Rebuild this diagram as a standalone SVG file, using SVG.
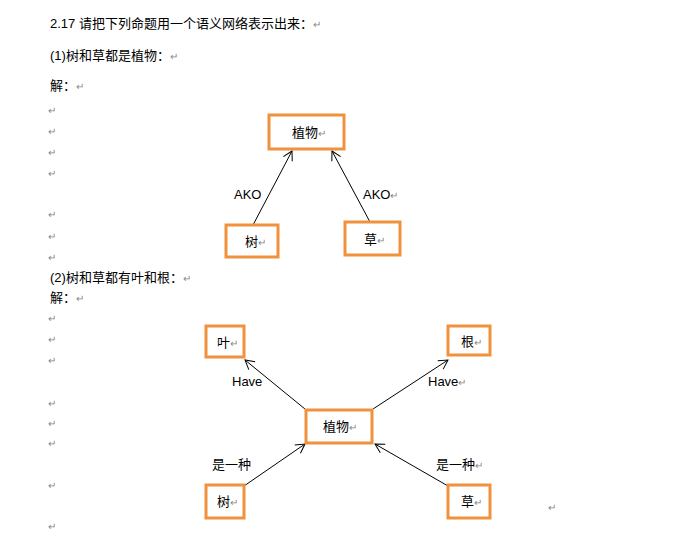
<svg xmlns="http://www.w3.org/2000/svg" width="681" height="542" viewBox="0 0 681 542">
<style>
text{font-family:"Liberation Sans","Noto Sans CJK SC",sans-serif;font-size:13px;fill:#000}
.r{fill:#888;font-size:10px}
.box{fill:#fff;stroke:#F0913C;stroke-width:3}
.c{text-anchor:middle}
.ln{stroke:#000;stroke-width:1;fill:none;marker-end:url(#a)}
</style>
<defs><marker id="a" markerWidth="12" markerHeight="12" refX="10" refY="6" orient="auto" markerUnits="userSpaceOnUse"><path d="M1,1 L10,6 L1,11" fill="none" stroke="#000" stroke-width="1"/></marker></defs>
<rect width="681" height="542" fill="#fff"/>
<text x="50" y="28">2.17 请把下列命题用一个语义网络表示出来：<tspan class="r">↵</tspan></text>
<text x="50" y="60">(1)树和草都是植物：<tspan class="r">↵</tspan></text>
<text x="50" y="90">解：<tspan class="r">↵</tspan></text>
<text x="50" y="282">(2)树和草都有叶和根：<tspan class="r">↵</tspan></text>
<text x="50" y="302">解：<tspan class="r">↵</tspan></text>
<g class="r">
<text class="r" x="48" y="114">↵</text><text class="r" x="48" y="135">↵</text><text class="r" x="48" y="156">↵</text><text class="r" x="48" y="177">↵</text>
<text class="r" x="48" y="218">↵</text><text class="r" x="48" y="240">↵</text><text class="r" x="48" y="261">↵</text>
<text class="r" x="48" y="322">↵</text><text class="r" x="48" y="343">↵</text><text class="r" x="48" y="364">↵</text>
<text class="r" x="48" y="407">↵</text><text class="r" x="48" y="427">↵</text><text class="r" x="48" y="447">↵</text>
<text class="r" x="48" y="489">↵</text><text class="r" x="48" y="530">↵</text><text class="r" x="548" y="511">↵</text>
</g>
<g id="connectors">
<line class="ln" x1="253" y1="225" x2="292" y2="151"/>
<line class="ln" x1="370" y1="222" x2="332" y2="151"/>
<line class="ln" x1="305" y1="409" x2="245" y2="360"/>
<line class="ln" x1="373" y1="409" x2="448" y2="360"/>
<line class="ln" x1="244" y1="486" x2="305" y2="444"/>
<line class="ln" x1="448" y1="486" x2="375" y2="444"/>
<text x="234" y="199">AKO</text>
<text x="363" y="199">AKO<tspan class="r">↵</tspan></text>
<text x="232" y="386">Have</text>
<text x="428" y="386">Have<tspan class="r">↵</tspan></text>
<text x="212" y="469">是一种</text>
<text x="436" y="469">是一种<tspan class="r">↵</tspan></text>
</g>
<g id="n1"><rect class="box" x="269" y="115" width="75" height="34"/><text x="292" y="137">植物<tspan class="r">↵</tspan></text></g>
<g id="n2"><rect class="box" x="226" y="225" width="52" height="32"/><text x="245" y="246">树<tspan class="r">↵</tspan></text></g>
<g id="n3"><rect class="box" x="345" y="222" width="55" height="33"/><text x="364" y="244">草<tspan class="r">↵</tspan></text></g>
<g id="n4"><rect class="box" x="206" y="326" width="38" height="31"/><text x="217" y="347">叶<tspan class="r">↵</tspan></text></g>
<g id="n5"><rect class="box" x="448" y="326" width="42" height="29"/><text x="461" y="346">根<tspan class="r">↵</tspan></text></g>
<g id="n6"><rect class="box" x="306" y="410" width="66" height="33"/><text x="323" y="431">植物<tspan class="r">↵</tspan></text></g>
<g id="n7"><rect class="box" x="206" y="485" width="38" height="33"/><text x="217" y="506">树<tspan class="r">↵</tspan></text></g>
<g id="n8"><rect class="box" x="448" y="485" width="42" height="33"/><text x="461" y="506">草<tspan class="r">↵</tspan></text></g>
</svg>
